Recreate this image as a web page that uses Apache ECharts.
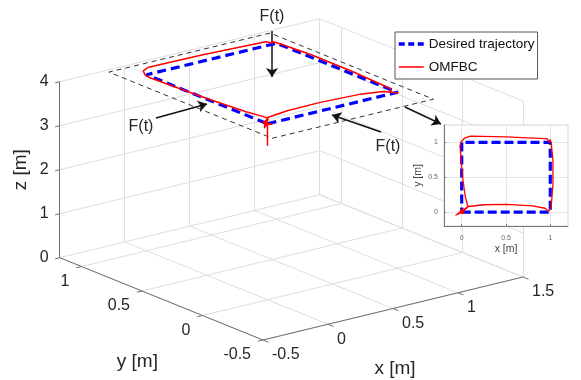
<!DOCTYPE html>
<html>
<head>
<meta charset="utf-8">
<script src="https://cdn.jsdelivr.net/npm/echarts@6/dist/echarts.min.js"></script>
<style>
  html, body { margin: 0; padding: 0; background: #fff; }
  #chart { width: 581px; height: 380px; }
</style>
</head>
<body>
<div id="chart"></div>
<script>
// axis ticks / limits of the 3D box
const xTicks = [-0.5, 0, 0.5, 1, 1.5];
const yTicks = [-0.5, 0, 0.5, 1];
const zTicks = [0, 1, 2, 3, 4];
const xLim = [-0.5, 1.5];
const yLim = [-0.5, 1.18];
const zLim = [0, 4];

// desired trajectory (square at 4 m)
const desX = [0, 1, 1, 0, 0];
const desY = [0, 0, 1, 1, 0];
const desZ = [4, 4, 4, 4, 4];

// OMFBC flown trajectory
const omX = [0, 0, 0.03, 0.02, -0.02, -0.01, 0.04, 0.08, 0.25, 0.5, 0.8, 0.94, 0.98, 1.0, 0.97, 1.01,
  1.03, 1.03, 1.01, 1.0, 0.98, 0.97, 0.94, 0.5, 0.1, 0.03, -0.01, -0.02, 0.01, 0.04, 0.07,
  0.02, -0.07, 0.0, 0.06, -0.04];
const omY = [0, 0, 0.02, -0.02, -0.01, 0.03, 0.05, 0.08, 0.105, 0.11, 0.09, 0.055, 0.01, -0.01, 0.02, 0.07,
  0.4, 0.75, 0.99, 1.04, 1.01, 1.05, 1.055, 1.08, 1.09, 1.06, 1.0, 0.95, 0.5, 0.22, 0.08,
  0.03, -0.05, 0.02, 0.06, -0.03];
const omZ = [3.5, 4, 4, 4, 4, 4, 4, 4, 4, 4, 4, 4, 4, 4, 4, 4,
  4, 4, 4, 4, 4, 4, 4, 4, 4, 4, 4, 4, 4, 4, 4,
  4, 4, 4, 4, 4];

// dashed disturbance area
const boxX = [-0.15, 1.09, 1.09, -0.15, -0.15];
const boxY = [-0.2, -0.2, 1.15, 1.15, -0.2];
const boxZ = [4, 4, 4, 4, 4];

// inset (top view) ticks
const insetTicks = [0, 0.5, 1];

const FONT = '"Liberation Sans", Arial, sans-serif';

// view: orthographic projection of the 3D box onto the page
const O = [263, 340];
const EX = [130, -31.5];
const EY = [-121, -49];
const EZ = [0, -44];
function proj(x, y, z) {
  const a = x - xLim[0], b = y - yLim[0];
  return [O[0] + a * EX[0] + b * EY[0] + z * EZ[0], O[1] + a * EX[1] + b * EY[1] + z * EZ[1]];
}
function seg(arr, a, b) { arr.push({ coords: [proj(a[0], a[1], a[2]), proj(b[0], b[1], b[2])] }); }

// grid lines on floor and two back walls
const gridSegs = [];
xTicks.forEach(x => seg(gridSegs, [x, yLim[0], 0], [x, yLim[1], 0]));
yTicks.forEach(y => seg(gridSegs, [xLim[0], y, 0], [xLim[1], y, 0]));
xTicks.forEach(x => seg(gridSegs, [x, yLim[1], 0], [x, yLim[1], zLim[1]]));
zTicks.forEach(z => seg(gridSegs, [xLim[0], yLim[1], z], [xLim[1], yLim[1], z]));
yTicks.concat([yLim[1]]).forEach(y => seg(gridSegs, [xLim[1], y, 0], [xLim[1], y, zLim[1]]));
zTicks.forEach(z => seg(gridSegs, [xLim[1], yLim[0], z], [xLim[1], yLim[1], z]));

// axis lines + ticks
const axisSegs = [];
seg(axisSegs, [xLim[0], yLim[1], 0], [xLim[0], yLim[1], zLim[1]]);
seg(axisSegs, [xLim[0], yLim[1], 0], [xLim[0], yLim[0], 0]);
seg(axisSegs, [xLim[0], yLim[0], 0], [xLim[1], yLim[0], 0]);
zTicks.forEach(z => seg(axisSegs, [xLim[0], yLim[1], z], [xLim[0] - 0.035, yLim[1], z]));
yTicks.forEach(y => seg(axisSegs, [xLim[0], y, 0], [xLim[0] - 0.04, y, 0]));
xTicks.forEach(x => seg(axisSegs, [x, yLim[0], 0], [x, yLim[0] - 0.045, 0]));

// texts of the 3D axes
const texts = [];
zTicks.forEach(z => {
  const p = proj(xLim[0], yLim[1], z);
  texts.push({ x: p[0] - 11, y: p[1], t: String(z), align: 'right', size: 16 });
});
yTicks.forEach(y => {
  const p = proj(xLim[0], y, 0);
  texts.push({ x: p[0] - 12, y: p[1] + 15, t: String(y), align: 'right', size: 16 });
});
xTicks.forEach(x => {
  const p = proj(x, yLim[0], 0);
  texts.push({ x: p[0] + 9, y: p[1] + 15, t: String(x), align: 'left', size: 16 });
});
let m = proj(xLim[0], 0.34, 0);
texts.push({ x: m[0] - 24, y: m[1] + 63, t: 'y [m]', align: 'center', size: 19 });
m = proj(0.5, yLim[0], 0);
texts.push({ x: m[0] + 2, y: m[1] + 60, t: 'x [m]', align: 'center', size: 19 });
m = proj(xLim[0], yLim[1], 2);
texts.push({ x: m[0] - 39, y: m[1], t: 'z [m]', align: 'center', size: 19, rot: Math.PI / 2 });

// annotations (page pixels)
const notes = [
  { x: 272, y: 17, t: 'F(t)' },
  { x: 141, y: 127, t: 'F(t)' },
  { x: 388, y: 147, t: 'F(t)' }
];
const arrows = [
  [[272, 31], [272, 77]],
  [[156, 118], [207, 104]],
  [[381, 132], [332, 115]],
  [[405, 107], [441, 124]]
];
notes.forEach(n => texts.push({ x: n.x, y: n.y, t: n.t, align: 'center', size: 16 }));

const pts = (xs, ys, zs) => xs.map((x, i) => proj(x, ys[i], zs[i]));

const chart = echarts.init(document.getElementById('chart'), null, { renderer: 'canvas' });

const option = {
  animation: false,
  backgroundColor: '#fff',
  grid: [
    { left: 0, top: 0, width: 581, height: 380 },
    { left: 444, top: 125, width: 124, height: 101, show: true, backgroundColor: '#fff',
      borderColor: '#d4d4d4', borderWidth: 1, z: 2 }
  ],
  xAxis: [
    { type: 'value', gridIndex: 0, min: 0, max: 581, show: false },
    { type: 'value', gridIndex: 1, min: -0.2, max: 1.2, z: 3,
      axisLine: { show: true, onZero: false, lineStyle: { color: '#7a7a7a' } },
      axisTick: { show: true, inside: true, length: 2, customValues: insetTicks, lineStyle: { color: '#7a7a7a' } },
      axisLabel: { customValues: insetTicks, fontSize: 7, color: '#666', margin: 9, fontFamily: FONT },
      splitLine: { show: true, lineStyle: { color: '#e6e6e6' } },
      name: 'x [m]', nameLocation: 'middle', nameGap: 18,
      nameTextStyle: { fontSize: 10.5, color: '#444', fontFamily: FONT } }
  ],
  yAxis: [
    { type: 'value', gridIndex: 0, min: 0, max: 380, inverse: true, show: false },
    { type: 'value', gridIndex: 1, min: -0.2, max: 1.25, z: 3,
      axisLine: { show: true, onZero: false, lineStyle: { color: '#7a7a7a' } },
      axisTick: { show: true, inside: true, length: 2, customValues: insetTicks, lineStyle: { color: '#7a7a7a' } },
      axisLabel: { customValues: insetTicks, fontSize: 7, color: '#666', margin: 6, fontFamily: FONT },
      splitLine: { show: true, lineStyle: { color: '#e6e6e6' } },
      name: 'y [m]', nameLocation: 'middle', nameGap: 20,
      nameTextStyle: { fontSize: 10.5, color: '#444', fontFamily: FONT } }
  ],
  legend: {
    data: [
      { name: 'Desired trajectory', itemStyle: { opacity: 0 },
        lineStyle: { color: '#0000ff', width: 3.5, type: [6, 3.5] } },
      { name: 'OMFBC', itemStyle: { opacity: 0 },
        lineStyle: { color: '#ff0000', width: 1.5, type: 'solid' } }
    ],
    orient: 'vertical', left: 395, top: 32,
    itemWidth: 25, itemHeight: 12, itemGap: 9,
    padding: [5, 3, 5, 2],
    backgroundColor: '#fff', borderColor: '#555', borderWidth: 1, borderRadius: 0,
    textStyle: { fontSize: 13.5, color: '#111', fontFamily: FONT },
    z: 6
  },
  series: [
    { type: 'lines', coordinateSystem: 'cartesian2d', z: 1, silent: true,
      data: gridSegs, lineStyle: { color: '#dedede', width: 1, opacity: 1 } },
    { type: 'lines', coordinateSystem: 'cartesian2d', z: 1, silent: true,
      data: axisSegs, lineStyle: { color: '#707070', width: 1, opacity: 1 } },
    { type: 'line', name: 'box', z: 1, symbol: 'none', silent: true,
      data: pts(boxX, boxY, boxZ), lineStyle: { color: '#333', width: 1, type: [5, 4] } },
    { type: 'line', name: 'Desired trajectory', z: 1, symbol: 'none', color: '#0000ff',
      data: pts(desX, desY, desZ), lineStyle: { color: '#0000ff', width: 3.2, type: [9, 5] } },
    { type: 'line', name: 'OMFBC', z: 1, symbol: 'none', color: '#ff0000',
      data: pts(omX, omY, omZ), lineStyle: { color: '#ff0000', width: 1.5 } },
    { type: 'lines', coordinateSystem: 'cartesian2d', z: 1, silent: true,
      data: arrows.map(a => ({ coords: a })),
      symbol: ['none', 'arrow'], symbolSize: [0, 9],
      lineStyle: { color: '#111', width: 1.5, opacity: 1 } },
    { type: 'custom', z: 1, silent: true,
      data: texts.map(d => [d.x, d.y]),
      renderItem: (params, api) => {
        const d = texts[params.dataIndex];
        const c = api.coord([d.x, d.y]);
        return { type: 'text', x: c[0], y: c[1], rotation: d.rot || 0,
          style: { text: d.t, align: d.align, verticalAlign: 'middle',
            fontSize: d.size, fontFamily: FONT, fill: '#262626' } };
      } },
    { type: 'line', name: 'Desired trajectory', xAxisIndex: 1, yAxisIndex: 1, z: 4, symbol: 'none',
      data: desX.map((x, i) => [x, desY[i]]), lineStyle: { color: '#0000ff', width: 3.2, type: [9, 4] } },
    { type: 'line', name: 'OMFBC', xAxisIndex: 1, yAxisIndex: 1, z: 4, symbol: 'none',
      data: omX.map((x, i) => [x, omY[i]]), lineStyle: { color: '#ff0000', width: 1.3 } }
  ]
};
chart.setOption(option);
</script>
</body>
</html>
